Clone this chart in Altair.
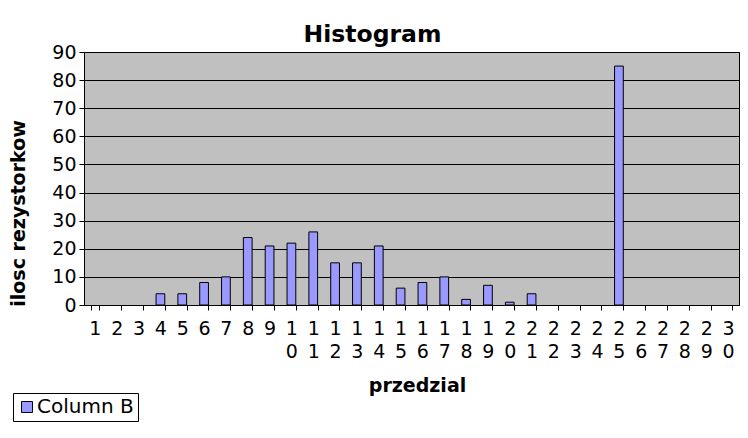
import altair as alt
import pandas as pd

categories = ["1", "2", "3", "4", "5", "6", "7", "8", "9", "10",
              "11", "12", "13", "14", "15", "16", "17", "18", "19", "20",
              "21", "22", "23", "24", "25", "26", "27", "28", "29", "30"]
counts = [0, 0, 0, 4, 4, 8, 10, 24, 21, 22,
          26, 15, 15, 21, 6, 8, 10, 2, 7, 1,
          4, 0, 0, 0, 85, 0, 0, 0, 0, 0]
series_name = "Column B"
y_ticks = [0, 10, 20, 30, 40, 50, 60, 70, 80, 90]

df = pd.DataFrame({"przedzial": categories, "ilosc": counts,
                   "seria": [series_name] * len(categories)})

FONT = "DejaVu Sans"

label_expr = ("length(datum.label) > 1 ? "
              "[substring(datum.label, 0, 1), substring(datum.label, 1)] : datum.label")

chart = alt.Chart(df).transform_filter(
    alt.datum.ilosc > 0
).mark_bar(stroke="black", strokeWidth=1).encode(
    x=alt.X("przedzial:N", sort=categories, title="przedzial",
            scale=alt.Scale(domain=categories, paddingInner=0.6, paddingOuter=0.3),
            axis=alt.Axis(labelAngle=0, labelExpr=label_expr, tickBand="extent",
                          tickSize=5, labelPadding=9, labelLineHeight=23,
                          labelOverlap=False, titleX=333, titleY=86,
                          titleBaseline="alphabetic", titleAnchor="middle",
                          titleAlign="center")),
    y=alt.Y("ilosc:Q", title="ilosc rezystorkow",
            scale=alt.Scale(domain=[0, 90], nice=False),
            axis=alt.Axis(values=y_ticks, grid=True, tickSize=5, labelPadding=3,
                          titleX=-60, titleY=161, titleAngle=270,
                          titleBaseline="alphabetic", titleAlign="center")),
    color=alt.Color("seria:N", scale=alt.Scale(range=["#9999ff"]),
                    legend=alt.Legend(title=None, orient="none", legendX=-71, legendY=341,
                                      strokeColor="black", fillColor="white",
                                      padding=4, symbolType="square", symbolSize=121,
                                      symbolStrokeColor="black", symbolStrokeWidth=1,
                                      symbolOffset=0, labelOffset=0,
                                      labelFont=FONT, labelFontSize=20,
                                      labelColor="black", cornerRadius=0)),
).properties(
    width=655, height=253,
    background="white",
    autosize=alt.AutoSizeParams(type="none"),
    padding={"left": 76, "top": 44, "right": 1, "bottom": 125},
    title=alt.Title("Histogram", font=FONT, fontSize=23.5, fontWeight="bold",
                    color="black", anchor="middle", dx=-39, dy=32, offset=10,
                    baseline="alphabetic"),
).configure_view(
    fill="#c0c0c0", stroke="black", strokeWidth=1
).configure_axis(
    labelFont=FONT, labelFontSize=19, labelColor="black",
    titleFont=FONT, titleFontSize=19, titleFontWeight="bold", titleColor="black",
    domainColor="black", tickColor="black", gridColor="black", gridWidth=1,
    domainWidth=1, tickWidth=1,
)

chart.save("out.html", embed_options={"renderer": "svg", "actions": False})
